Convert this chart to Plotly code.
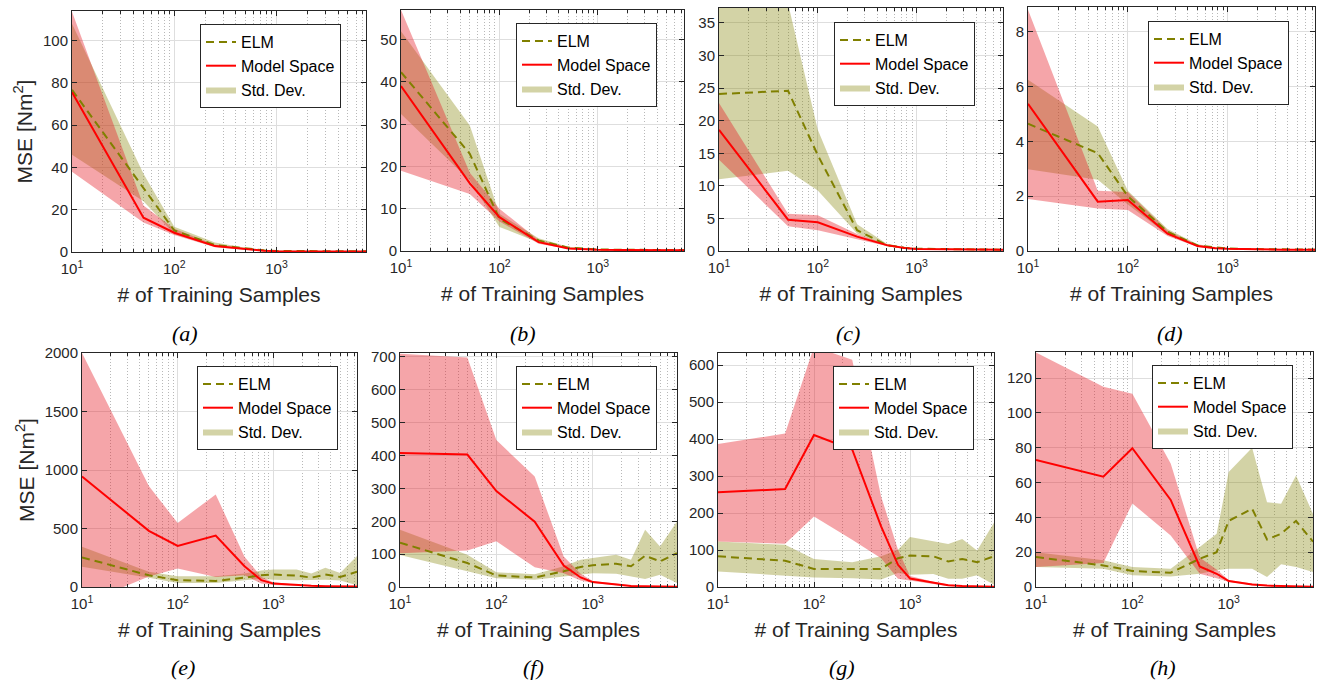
import math
import plotly.graph_objects as go

# ---------------- data ----------------
X_SAMPLES = [10, 50, 100, 250, 500, 750, 1000, 1750, 2500, 3500, 5000, 7500]
X_TICKS = [10, 100, 1000]
X_TICKTEXT = ["10<sup>1</sup>", "10<sup>2</sup>", "10<sup>3</sup>"]
X_MINOR = [20, 30, 40, 50, 60, 70, 80, 90, 200, 300, 400, 500, 600, 700, 800, 900,
           2000, 3000, 4000, 5000, 6000, 7000]

PANEL_LABELS = ["(a)", "(b)", "(c)", "(d)", "(e)", "(f)", "(g)", "(h)"]
Y_MAX = [114, 57, 37.3, 8.9, 2000, 712, 633, 135]
Y_DTICK = [20, 10, 5, 2, 500, 100, 100, 20]

a_elm = [76.7, 30, 10.2, 3.3, 1.6, 0.8, 0.5, 0.4, 0.35, 0.3, 0.3, 0.3]
a_elm_hi = [108, 37, 12, 4.5, 2.0, 1.0, 0.7, 0.55, 0.5, 0.45, 0.4, 0.4]
a_elm_lo = [46, 24, 8.5, 2.5, 1.2, 0.6, 0.35, 0.3, 0.25, 0.2, 0.2, 0.2]
a_ms = [75.6, 16.2, 9.1, 2.8, 1.4, 0.6, 0.4, 0.3, 0.3, 0.25, 0.2, 0.2]
a_ms_hi = [113.7, 22, 11, 3.4, 1.7, 0.8, 0.5, 0.4, 0.35, 0.3, 0.3, 0.3]
a_ms_lo = [38, 14, 8, 2.3, 1.1, 0.45, 0.3, 0.25, 0.2, 0.2, 0.15, 0.15]

b_elm = [42.3, 23, 7.6, 2.5, 0.8, 0.5, 0.35, 0.3, 0.25, 0.2, 0.2, 0.2]
b_elm_hi = [52, 29.7, 8.8, 3.0, 1.0, 0.6, 0.45, 0.4, 0.3, 0.3, 0.3, 0.3]
b_elm_lo = [32.4, 16.7, 5.7, 2.0, 0.6, 0.4, 0.25, 0.2, 0.2, 0.15, 0.15, 0.15]
b_ms = [39, 16, 8, 2.1, 0.6, 0.4, 0.3, 0.25, 0.2, 0.2, 0.2, 0.2]
b_ms_hi = [57, 18.5, 10, 2.6, 0.8, 0.5, 0.4, 0.3, 0.3, 0.25, 0.25, 0.25]
b_ms_lo = [19, 13.5, 7, 1.7, 0.45, 0.3, 0.2, 0.2, 0.15, 0.15, 0.15, 0.15]

c_elm = [24.1, 24.6, 14.7, 3.2, 0.9, 0.5, 0.35, 0.3, 0.25, 0.2, 0.2, 0.2]
c_elm_hi = [45, 38, 18.6, 4.1, 1.1, 0.6, 0.45, 0.4, 0.35, 0.3, 0.3, 0.3]
c_elm_lo = [11.0, 12.3, 9.3, 2.7, 0.7, 0.4, 0.25, 0.2, 0.15, 0.15, 0.15, 0.15]
c_ms = [18.6, 4.8, 4.4, 2.2, 0.9, 0.45, 0.3, 0.25, 0.2, 0.2, 0.2, 0.2]
c_ms_hi = [22.7, 5.7, 5.5, 2.6, 1.0, 0.55, 0.4, 0.3, 0.3, 0.25, 0.25, 0.25]
c_ms_lo = [14, 3.8, 3.2, 1.8, 0.75, 0.35, 0.2, 0.2, 0.15, 0.15, 0.15, 0.15]

d_elm = [4.64, 3.57, 2.0, 0.7, 0.2, 0.12, 0.09, 0.07, 0.06, 0.05, 0.05, 0.05]
d_elm_hi = [6.25, 4.54, 2.2, 0.8, 0.25, 0.15, 0.11, 0.09, 0.08, 0.07, 0.07, 0.07]
d_elm_lo = [2.98, 2.6, 1.7, 0.6, 0.16, 0.1, 0.07, 0.05, 0.04, 0.04, 0.04, 0.04]
d_ms = [5.37, 1.8, 1.86, 0.63, 0.18, 0.1, 0.08, 0.06, 0.05, 0.05, 0.05, 0.05]
d_ms_hi = [8.8, 2.2, 2.15, 0.75, 0.22, 0.13, 0.1, 0.08, 0.07, 0.06, 0.06, 0.06]
d_ms_lo = [1.9, 1.55, 1.5, 0.55, 0.15, 0.08, 0.06, 0.05, 0.04, 0.04, 0.04, 0.04]

e_elm = [253, 100, 58, 52, 80, 100, 106, 98, 80, 106, 86, 130]
e_elm_hi = [345, 130, 92, 92, 115, 140, 150, 150, 115, 164, 120, 265]
e_elm_lo = [173, 80, 35, 35, 58, 70, 63, 58, 58, 63, 55, 14]
e_ms = [944, 480, 351, 440, 178, 58, 29, 14, 10, 7, 5, 4]
e_ms_hi = [2000, 863, 547, 791, 259, 86, 40, 20, 14, 10, 8, 6]
e_ms_lo = [-147, 90, 158, 86, 100, 30, 18, 8, 6, 4, 3, 2]

f_elm = [135, 73, 35, 29, 48, 61, 66, 71, 63, 95, 78, 103]
f_elm_hi = [174, 98, 45, 39, 63, 83, 88, 98, 83, 174, 123, 199]
f_elm_lo = [97, 48, 27, 22, 32, 37, 42, 40, 32, 24, 37, 12]
f_ms = [408, 403, 292, 199, 65, 29, 15, 7, 3, 2, 1, 1]
f_ms_hi = [710, 698, 447, 336, 93, 40, 18, 9, 5, 3, 2, 2]
f_ms_lo = [103, 111, 139, 60, 42, 20, 12, 5, 2, 1, 0.5, 0.5]

g_elm = [83, 71, 49, 49, 49, 78, 85, 83, 69, 76, 67, 83]
g_elm_hi = [123, 114, 76, 67, 83, 101, 135, 123, 116, 130, 99, 174]
g_elm_lo = [42, 31, 26, 24, 20, 38, 33, 35, 22, 22, 32, 6]
g_ms = [256, 265, 411, 372, 164, 60, 23, 11, 5, 3, 2, 1]
g_ms_hi = [387, 415, 650, 615, 245, 101, 30, 14, 7, 4, 3, 2]
g_ms_lo = [123, 117, 191, 128, 78, 22, 18, 8, 3, 2, 1, 0.5]

h_elm = [17.2, 12.4, 9.2, 8.2, 16.2, 20, 38, 45, 27.3, 30.6, 38, 26]
h_elm_hi = [20, 15.3, 11.5, 10.5, 23, 30.6, 66, 80, 48.7, 47.8, 64, 42]
h_elm_lo = [11.5, 10.5, 6.7, 6.1, 7.6, 9.6, 10.5, 10.5, 5.7, 13, 11.5, 8.6]
h_ms = [73, 63.4, 79.7, 50, 11.8, 7.6, 3.4, 1.5, 0.8, 0.5, 0.3, 0.2]
h_ms_hi = [134.7, 115, 111, 71, 17, 10, 4, 2, 1.2, 0.8, 0.5, 0.4]
h_ms_lo = [11.5, 13.8, 48, 29.6, 7.6, 5, 3, 1, 0.5, 0.3, 0.2, 0.1]

PANEL_DATA = [
    (a_elm, a_elm_lo, a_elm_hi, a_ms, a_ms_lo, a_ms_hi),
    (b_elm, b_elm_lo, b_elm_hi, b_ms, b_ms_lo, b_ms_hi),
    (c_elm, c_elm_lo, c_elm_hi, c_ms, c_ms_lo, c_ms_hi),
    (d_elm, d_elm_lo, d_elm_hi, d_ms, d_ms_lo, d_ms_hi),
    (e_elm, e_elm_lo, e_elm_hi, e_ms, e_ms_lo, e_ms_hi),
    (f_elm, f_elm_lo, f_elm_hi, f_ms, f_ms_lo, f_ms_hi),
    (g_elm, g_elm_lo, g_elm_hi, g_ms, g_ms_lo, g_ms_hi),
    (h_elm, h_elm_lo, h_elm_hi, h_ms, h_ms_lo, h_ms_hi),
]

# ---------------- layout (pixels) ----------------
W, H = 1318, 684
# plot-area boxes: left, right, top, bottom
BOXES = [
    (72, 366, 11, 252), (401, 684, 10, 251), (719, 1003, 8, 251), (1028, 1315, 7, 251),
    (82, 357, 353, 587), (400, 677, 353, 587), (718, 994, 353, 587), (1036, 1313, 352, 587),
]
LEGEND_POS = [(200, 24), (516, 23), (834, 22), (1148, 21),
              (197, 366), (516, 366), (833, 366), (1152, 365)]
CAPTION_POS = [(185, 333), (523, 333), (848, 333), (1170, 333),
               (183, 667), (533, 667), (842, 667), (1163, 667)]

OLIVE = "#808000"
RED = "#ff0000"
OLIVE_FILL = "rgba(128,128,0,0.35)"
RED_FILL = "rgba(230,30,40,0.40)"
AX = "#262626"
FONT = "Liberation Sans, Arial, Helvetica, sans-serif"

fig = go.Figure()
layout = dict(
    width=W, height=H, margin=dict(l=0, r=0, t=0, b=0),
    paper_bgcolor="white", plot_bgcolor="white",
    font=dict(family=FONT, color=AX), showlegend=True, annotations=[],
)

for i, data in enumerate(PANEL_DATA):
    n = i + 1
    xs = "x" if n == 1 else f"x{n}"
    ys = "y" if n == 1 else f"y{n}"
    leg = "legend" if n == 1 else f"legend{n}"
    elm, elm_lo, elm_hi, ms, ms_lo, ms_hi = data
    band_x = X_SAMPLES + X_SAMPLES[::-1]

    fig.add_trace(go.Scatter(
        x=band_x, y=elm_hi + elm_lo[::-1], xaxis=xs, yaxis=ys, mode="lines",
        fill="toself", fillcolor=OLIVE_FILL, line=dict(width=0, color=OLIVE_FILL),
        name="Std. Dev.", legend=leg, legendrank=3, hoverinfo="skip"))
    fig.add_trace(go.Scatter(
        x=band_x, y=ms_hi + ms_lo[::-1], xaxis=xs, yaxis=ys, mode="lines",
        fill="toself", fillcolor=RED_FILL, line=dict(width=0, color=RED_FILL),
        name="Model Space Std.", showlegend=False, hoverinfo="skip"))
    fig.add_trace(go.Scatter(
        x=X_SAMPLES, y=elm, xaxis=xs, yaxis=ys, mode="lines",
        line=dict(color=OLIVE, width=2, dash="8px,5px"),
        name="ELM", legend=leg, legendrank=1))
    fig.add_trace(go.Scatter(
        x=X_SAMPLES, y=ms, xaxis=xs, yaxis=ys, mode="lines",
        line=dict(color=RED, width=2),
        name="Model Space", legend=leg, legendrank=2))

    l, r, t, b = BOXES[i]
    xkey = "xaxis" if n == 1 else f"xaxis{n}"
    ykey = "yaxis" if n == 1 else f"yaxis{n}"
    layout[xkey] = dict(
        type="log", range=[1, math.log10(7500)], domain=[l / W, r / W], anchor=ys,
        tickmode="array", tickvals=X_TICKS, ticktext=X_TICKTEXT,
        ticks="inside", ticklen=5, tickcolor=AX, tickwidth=1, ticklabelstandoff=3,
        showline=True, linecolor=AX, linewidth=1, mirror="allticks",
        showgrid=True, gridcolor="#dedede", gridwidth=1, zeroline=False,
        minor=dict(tickmode="array", tickvals=X_MINOR, ticks="inside", ticklen=3,
                   tickcolor=AX, showgrid=True, gridcolor="#b8b8b8", griddash="1px,2px",
                   gridwidth=1),
        tickfont=dict(size=15, color=AX, family=FONT),
        title=dict(text="# of Training Samples", font=dict(size=21, color=AX, family=FONT),
                   standoff=11),
        automargin=False, fixedrange=True,
    )
    ytitle = dict(text="MSE [Nm<sup>2</sup>]", font=dict(size=21, color=AX, family=FONT),
                  standoff=4) if n in (1, 5) else None
    yax = dict(
        range=[0, Y_MAX[i]], domain=[1 - b / H, 1 - t / H], anchor=xs,
        tickmode="linear", tick0=0, dtick=Y_DTICK[i],
        ticks="inside", ticklen=5, tickcolor=AX, tickwidth=1,
        showline=True, linecolor=AX, linewidth=1, mirror="allticks",
        showgrid=True, gridcolor="#dedede", gridwidth=1, zeroline=False,
        tickfont=dict(size=15, color=AX, family=FONT),
        automargin=False, fixedrange=True,
    )
    if ytitle:
        yax["title"] = ytitle
    layout[ykey] = yax

    lx, ly = LEGEND_POS[i]
    layout[leg] = dict(
        x=lx / W, y=1 - ly / H, xanchor="left", yanchor="top", xref="paper", yref="paper",
        bgcolor="white", bordercolor=AX, borderwidth=1,
        font=dict(size=16, color="black", family=FONT),
        itemwidth=30, tracegroupgap=0, traceorder="normal",
    )

    cx, cy = CAPTION_POS[i]
    layout["annotations"].append(dict(
        text=f"<i>{PANEL_LABELS[i]}</i>", x=cx / W, y=1 - cy / H, xref="paper", yref="paper",
        xanchor="center", yanchor="middle", showarrow=False,
        font=dict(size=22, color="black", family="Liberation Serif, Times New Roman, serif")))

fig.update_layout(**layout)
fig.write_html("out.html", config={"displayModeBar": False},
               post_script="document.body.style.margin='0';")
